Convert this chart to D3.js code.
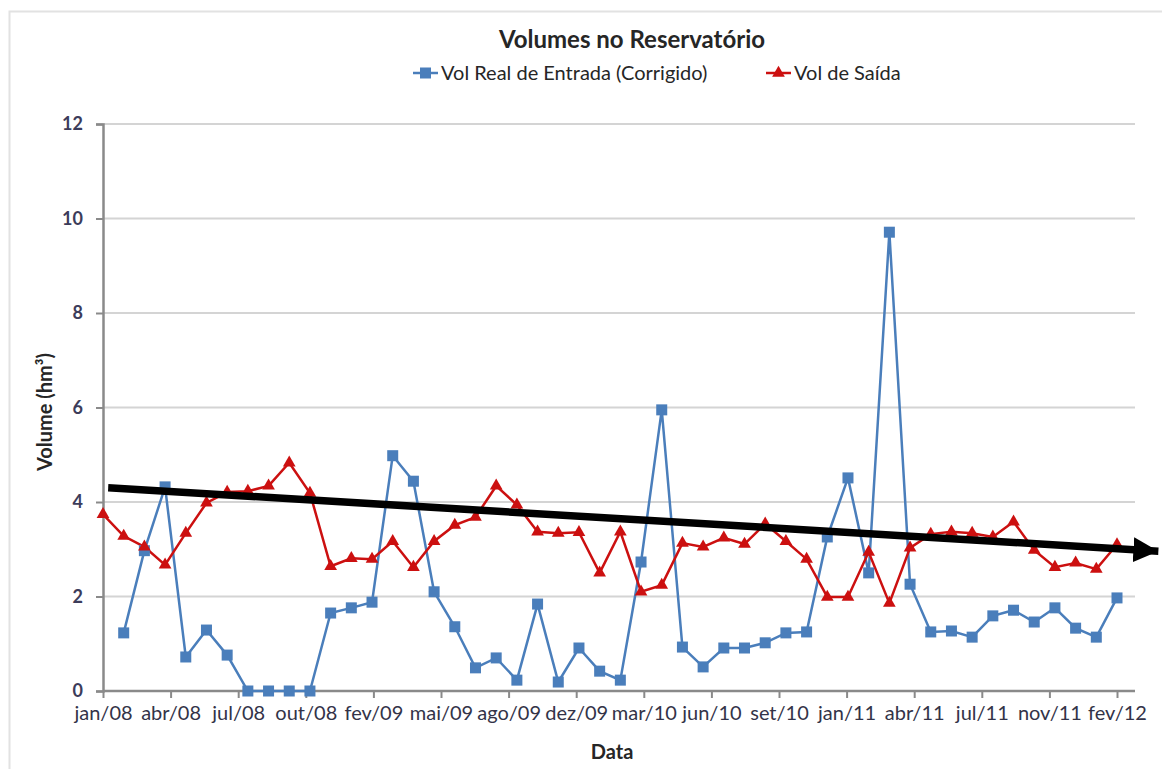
<!DOCTYPE html>
<html>
<head>
<meta charset="utf-8">
<script src="https://cdn.jsdelivr.net/npm/d3@7"></script>
<style>
  body { margin: 0; background: #fff; }
  text { font-family: Lato, "Open Sans", sans-serif; }
</style>
</head>
<body>
<svg id="chart" width="1162" height="769"></svg>
<script>
// Monthly series, jan/08 .. fev/12 (50 months); null = no reading
const tickLabels = ["jan/08", "abr/08", "jul/08", "out/08", "fev/09", "mai/09", "ago/09", "dez/09",
                    "mar/10", "jun/10", "set/10", "jan/11", "abr/11", "jul/11", "nov/11", "fev/12"];
const monthCount = 50;
const inflow = [null, 1.23, 2.97, 4.32, 0.72, 1.29, 0.76, 0, 0, 0,
                0, 1.65, 1.76, 1.88, 4.98, 4.44, 2.10, 1.36, 0.49, 0.70,
                0.23, 1.84, 0.19, 0.91, 0.42, 0.23, 2.73, 5.95, 0.93, 0.51,
                0.91, 0.91, 1.02, 1.23, 1.25, 3.26, 4.51, 2.50, 9.71, 2.26,
                1.25, 1.27, 1.14, 1.59, 1.71, 1.46, 1.76, 1.33, 1.14, 1.97];
const outflow = [3.74, 3.28, 3.05, 2.67, 3.34, 3.98, 4.21, 4.23, 4.34, 4.83,
                 4.19, 2.64, 2.81, 2.79, 3.17, 2.62, 3.17, 3.51, 3.68, 4.34,
                 3.94, 3.37, 3.34, 3.36, 2.50, 3.37, 2.10, 2.24, 3.13, 3.05,
                 3.24, 3.11, 3.54, 3.17, 2.79, 1.99, 1.99, 2.94, 1.86, 3.03,
                 3.32, 3.37, 3.34, 3.26, 3.58, 2.98, 2.62, 2.71, 2.58, 3.10];
const yTicks = [0, 2, 4, 6, 8, 10, 12];
// Hand-drawn downward trend arrow (month index, volume)
const trendFrom = [0.25, 4.30];
const trendTo = [51.0, 2.96];

const seriesNames = ["Vol Real de Entrada (Corrigido)", "Vol de Saída"];
const blue = "#4a7ebb", red = "#cc1010";

const svg = d3.select("#chart");

// outer chart border
svg.append("rect").attr("x", 9.5).attr("y", 11.5).attr("width", 1170).attr("height", 780)
  .attr("fill", "#fff").attr("stroke", "#e2e2e2").attr("stroke-width", 2);

const x = d3.scaleLinear().domain([0, monthCount - 1]).range([103, 1117]);
const y = d3.scaleLinear().domain([0, 12]).range([691, 124]);
const axisEnd = 1135;

// gridlines
svg.append("g").selectAll("line").data(yTicks.filter(d => d > 0)).join("line")
  .attr("x1", x(0)).attr("x2", axisEnd)
  .attr("y1", d => y(d)).attr("y2", d => y(d))
  .attr("stroke", "#d4d4d4").attr("stroke-width", 2);

// y axis
const yAxis = svg.append("g").attr("transform", `translate(${x(0)},0)`)
  .call(d3.axisLeft(y).tickValues(yTicks).tickSize(7).tickPadding(13).tickFormat(d3.format("d")));
yAxis.select(".domain").attr("stroke", "#8a8a8a").attr("stroke-width", 2.5);
yAxis.selectAll(".tick line").attr("stroke", "#8a8a8a").attr("stroke-width", 2);
yAxis.selectAll(".tick text").attr("font-size", 18).attr("font-weight", 700).attr("fill", "#3c3c5a")
  .attr("font-family", "Lato");

// x axis
const tickPos = tickLabels.map((_, i) => i * (monthCount - 1) / (tickLabels.length - 1));
const xAxis = svg.append("g").attr("transform", `translate(0,${y(0)})`)
  .call(d3.axisBottom(x).tickValues(tickPos).tickSize(7).tickPadding(8)
    .tickFormat((d, i) => tickLabels[i]));
xAxis.select(".domain").remove();
xAxis.append("line").attr("x1", x(0)).attr("x2", axisEnd).attr("stroke", "#8a8a8a").attr("stroke-width", 2.5);
xAxis.selectAll(".tick line").attr("stroke", "#8a8a8a").attr("stroke-width", 2);
xAxis.selectAll(".tick text").attr("font-size", 20).attr("fill", "#333348").attr("font-family", "Lato");

// series
const line = d3.line().defined(d => d.v !== null).x(d => x(d.i)).y(d => y(d.v));
const inData = inflow.map((v, i) => ({ i, v }));
const outData = outflow.map((v, i) => ({ i, v }));

svg.append("path").datum(inData).attr("d", line)
  .attr("fill", "none").attr("stroke", blue).attr("stroke-width", 2.5);
svg.append("path").datum(outData).attr("d", line)
  .attr("fill", "none").attr("stroke", red).attr("stroke-width", 2.5);

const sq = 11;
svg.append("g").selectAll("rect").data(inData.filter(d => d.v !== null)).join("rect")
  .attr("x", d => x(d.i) - sq / 2).attr("y", d => y(d.v) - sq / 2)
  .attr("width", sq).attr("height", sq).attr("fill", blue);

const tri = d3.symbol().type(d3.symbolTriangle).size(70);
svg.append("g").selectAll("path").data(outData).join("path")
  .attr("transform", d => `translate(${x(d.i)},${y(d.v)})`)
  .attr("d", tri).attr("fill", red);

// trend arrow
svg.append("defs").append("marker")
  .attr("id", "arrowhead").attr("viewBox", "0 0 10 10").attr("refX", 10).attr("refY", 5)
  .attr("markerUnits", "userSpaceOnUse").attr("markerWidth", 25).attr("markerHeight", 27)
  .attr("orient", "auto")
  .append("path").attr("d", "M0,0 L10,5 L0,10 Z").attr("fill", "#000");
svg.append("line")
  .attr("x1", x(trendFrom[0])).attr("y1", y(trendFrom[1]))
  .attr("x2", x(trendTo[0])).attr("y2", y(trendTo[1]))
  .attr("stroke", "#000").attr("stroke-width", 7.5).attr("marker-end", "url(#arrowhead)");

// title
svg.append("text").attr("x", 632).attr("y", 48).attr("text-anchor", "middle")
  .attr("font-size", 24).attr("font-weight", 700).attr("fill", "#262626")
  .text("Volumes no Reservatório");

// legend
const legend = [
  { name: seriesNames[0], color: blue, x: 413, shape: "square" },
  { name: seriesNames[1], color: red, x: 766, shape: "triangle" }
];
const lg = svg.append("g").selectAll("g").data(legend).join("g")
  .attr("transform", d => `translate(${d.x},73)`);
lg.append("line").attr("x1", 0).attr("x2", 25).attr("stroke", d => d.color).attr("stroke-width", 2.5);
lg.filter(d => d.shape === "square").append("rect")
  .attr("x", 12.5 - sq / 2).attr("y", -sq / 2).attr("width", sq).attr("height", sq).attr("fill", d => d.color);
lg.filter(d => d.shape === "triangle").append("path")
  .attr("transform", "translate(12.5,0)").attr("d", tri).attr("fill", d => d.color);
lg.append("text").attr("x", 28).attr("y", 7).attr("font-size", 20).attr("fill", "#262626")
  .text(d => d.name);

// axis titles
svg.append("text").attr("x", 612).attr("y", 759).attr("text-anchor", "middle")
  .attr("font-size", 20).attr("font-weight", 700).attr("fill", "#262626").text("Data");
svg.append("text").attr("transform", "translate(52,412) rotate(-90)").attr("text-anchor", "middle")
  .attr("font-size", 20).attr("font-weight", 700).attr("fill", "#262626")
  .text("Volume (hm³)");
</script>
</body>
</html>
